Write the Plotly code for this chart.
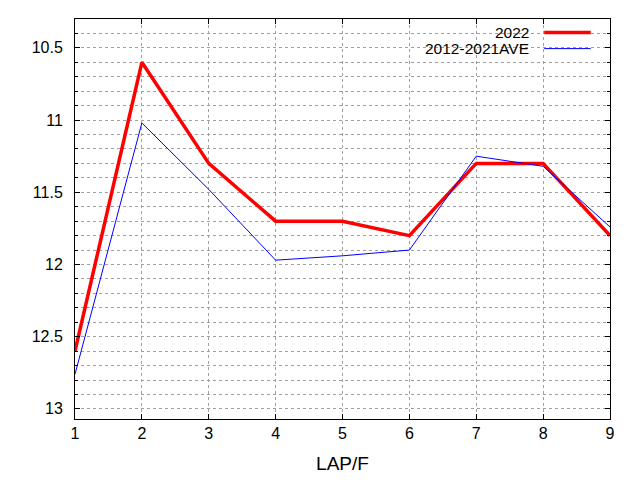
import plotly.graph_objects as go

# lap numbers and times
laps = [1, 2, 3, 4, 5, 6, 7, 8, 9]
y2022 = [12.6, 10.6, 11.3, 11.7, 11.7, 11.8, 11.3, 11.3, 11.8]
y_ave = [12.76, 11.02, 11.48, 11.97, 11.94, 11.9, 11.25, 11.32, 11.74]

series_names = ["2022", "2012-2021AVE"]
series_colors = ["#ff0000", "#0000ff"]
series_widths = [3.5, 1]

fig = go.Figure()

for name, vals, col, w in zip(series_names, [y2022, y_ave], series_colors, series_widths):
    fig.add_trace(go.Scatter(
        x=laps, y=vals, mode="lines", name=name,
        line=dict(color=col, width=w),
        showlegend=False
    ))

# gnuplot style legend: text on the left, line sample on the right
legend_rows = [0.966, 0.926]
for name, col, w, yy in zip(series_names, series_colors, series_widths, legend_rows):
    fig.add_annotation(
        x=0.850, y=yy, xref="paper", yref="paper", text=name,
        showarrow=False, xanchor="right", yanchor="middle",
        font=dict(size=15.5, color="black"), borderpad=0
    )
    fig.add_shape(
        type="line", xref="paper", yref="paper",
        x0=0.877, x1=0.964, y0=yy, y1=yy,
        line=dict(color=col, width=w)
    )

grid_col = "#a0a0a0"

# the page puts the figure 8px in from the corner, so margins allow for that
fig.update_layout(
    width=640, height=480,
    margin=dict(l=67, r=38, t=11, b=69),
    plot_bgcolor="white", paper_bgcolor="white",
    font=dict(family="Liberation Sans, Arial, sans-serif", size=16, color="black"),
    xaxis=dict(
        range=[1, 9], tickmode="linear", tick0=1, dtick=1,
        showline=True, linecolor="black", linewidth=1, mirror="ticks",
        ticks="inside", ticklen=5, tickcolor="black",
        showgrid=True, gridcolor=grid_col, griddash="3px,3px", gridwidth=1,
        zeroline=False,
        title=dict(text="LAP/F", standoff=15),
    ),
    yaxis=dict(
        range=[13.07, 10.3], tickmode="linear", tick0=10.5, dtick=0.5,
        showline=True, linecolor="black", linewidth=1, mirror="ticks",
        ticks="inside", ticklen=5, tickcolor="black",
        showgrid=True, gridcolor=grid_col, griddash="3px,3px", gridwidth=1,
        zeroline=False,
        minor=dict(dtick=0.1, tick0=10.5, ticks="inside", ticklen=3,
                   tickcolor="black", showgrid=True, gridcolor=grid_col,
                   griddash="3px,3px", gridwidth=1),
        ticklabelstandoff=8,
    ),
)

fig.write_html("out.html")
